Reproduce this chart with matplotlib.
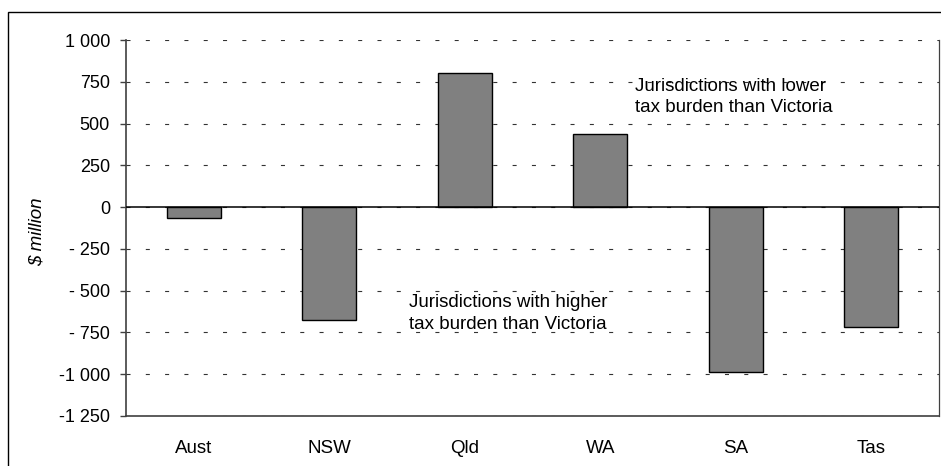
import matplotlib.pyplot as plt
from matplotlib.patches import Rectangle

plt.rcParams['font.family'] = ['Liberation Sans', 'DejaVu Sans']
plt.rcParams['lines.scale_dashes'] = False

states = ["Aust", "NSW", "Qld", "WA", "SA", "Tas"]
values = [-65, -675, 805, 440, -985, -720]
ytick_vals = [1000, 750, 500, 250, 0, -250, -500, -750, -1000, -1250]
ytick_labels = ["1 000", "750", "500", "250", "0", "- 250", "- 500", "- 750", "-1 000", "-1 250"]

fig = plt.figure(figsize=(9.41, 4.66), dpi=100)
ax = fig.add_axes([126 / 941, 1 - 416 / 466, (939 - 126) / 941, (416 - 40) / 466])

x = range(len(states))
ax.bar(x, values, width=0.4, color='#808080', edgecolor='black', linewidth=1, zorder=3)
ax.axhline(0, color='black', linewidth=1.1, zorder=4)

ax.set_xlim(-0.5, 5.5)
ax.set_ylim(-1250, 1000)
ax.set_yticks(ytick_vals)
ax.set_yticklabels(ytick_labels, fontsize=13)
ax.set_xticks(list(x))
ax.set_xticklabels(states, fontsize=13.5)
ax.tick_params(axis='x', length=0, pad=17)
ax.tick_params(axis='y', direction='out', length=4.5, width=1, color='#404040', pad=7)

ax.yaxis.grid(True, color='#333333', linestyle=(0, (2.9, 11)), linewidth=0.8)
ax.set_axisbelow(True)
ax.spines['top'].set_visible(False)
for side in ['left', 'right', 'bottom']:
    ax.spines[side].set_color('#404040')
    ax.spines[side].set_linewidth(1.2)
ax.spines['right'].set_linewidth(0.9)

ax.set_ylabel('$ million', fontsize=13.5, style='italic')
ax.yaxis.set_label_coords(-0.099, 0.49)

ax.text(3.256, 659, "Jurisdictions with lower\ntax burden than Victoria",
        fontsize=13.5, ha='left', va='center', linespacing=1.38)
ax.text(1.589, -634, "Jurisdictions with higher\ntax burden than Victoria",
        fontsize=13.5, ha='left', va='center', linespacing=1.38)

fig.patches.append(Rectangle((8 / 941, -0.1), 1.2, 1.1 - 12 / 466, transform=fig.transFigure,
                             fill=False, edgecolor='black', linewidth=1))

fig.savefig('out.png', dpi=100)
